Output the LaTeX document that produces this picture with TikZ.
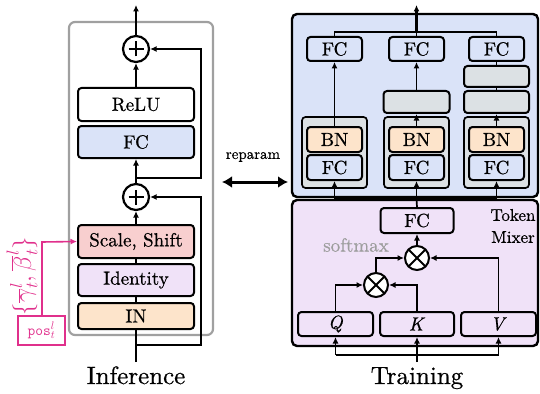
\documentclass[tikz,border=0pt]{standalone}
\usepackage{fontspec}
\setmainfont{lmroman10-regular}[Extension=.otf, FakeBold=0.6, ItalicFont=lmroman10-italic, ItalicFeatures={FakeBold=0.6}]
\usetikzlibrary{arrows.meta}
\definecolor{cblue}{RGB}{218,227,248}
\definecolor{cpink}{RGB}{248,207,207}
\definecolor{clav}{RGB}{240,226,248}
\definecolor{cpeach}{RGB}{253,228,203}
\definecolor{cgray}{RGB}{220,225,228}
\definecolor{cmag}{RGB}{224,48,140}
\definecolor{cpanel}{RGB}{160,160,160}
\begin{document}
\begin{tikzpicture}[x=1pt,y=-1pt,
  box/.style={draw, line width=2pt, rounded corners=3.5pt, inner sep=0pt, font=\fontsize{19}{22}\selectfont},
  conn/.style={line width=1.7pt},
  arr/.style={line width=1.7pt, -{Latex[length=6.5pt,width=6pt]}},
  opplus/.style={draw, circle, line width=2.2pt, minimum size=26pt, inner sep=0pt, fill=white,
    path picture={\draw[line width=2.2pt] ([yshift=-7.5pt]path picture bounding box.center) -- ([yshift=7.5pt]path picture bounding box.center)
      ([xshift=-7.5pt]path picture bounding box.center) -- ([xshift=7.5pt]path picture bounding box.center);}},
  optimes/.style={draw, circle, line width=2pt, minimum size=24pt, inner sep=0pt, fill=white,
    path picture={\draw[line width=2pt] (path picture bounding box.north west) -- (path picture bounding box.south east)
      (path picture bounding box.north east) -- (path picture bounding box.south west);}},
  lbl/.style={inner sep=0pt, font=\fontsize{25}{28}\selectfont}
]
\useasboundingbox (0,0) rectangle (540,393);

% ---------------- Left: Inference ----------------
\node[draw=cpanel, line width=2.2pt, rounded corners=6pt, minimum width=144pt, minimum height=313pt, inner sep=0pt] (lpanel) at (141,178.5) {};

\node[opplus] (p1) at (136,49) {};
\node[opplus] (p2) at (136,197) {};
\node[box, fill=white, minimum width=116pt, minimum height=33pt] (relu) at (136,104.5) {ReLU};
\node[box, fill=cblue, minimum width=116pt, minimum height=32pt] (lfc) at (136,142) {FC};
\node[box, fill=cpink, minimum width=116pt, minimum height=33pt] (ss) at (136,241.5) {Scale, Shift};
\node[box, fill=clav, minimum width=116pt, minimum height=32pt] (id) at (136,280) {Identity};
\node[box, fill=cpeach, minimum width=116pt, minimum height=26pt] (in) at (136,316) {IN};

\coordinate (lout) at (136,5);
\coordinate (lin) at (136,362);
\coordinate (b1) at (136,178);
\coordinate (b1r) at (201,178);
\coordinate (b1t) at (201,49);
\coordinate (b2) at (136,345);
\coordinate (b2r) at (201,345);
\coordinate (b2t) at (201,197);

\draw[conn] (lin) -- (in.south);
\draw[conn] (in.north) -- (id.south);
\draw[conn] (id.north) -- (ss.south);
\draw[arr] (ss.north) -- (p2.south);
\draw[arr] (p2.north) -- (lfc.south);
\draw[arr] (relu.north) -- (p1.south);
\draw[arr] (p1.north) -- (lout);
\draw[arr] (b1) -- (b1r) -- (b1t) -- (p1.east);
\draw[arr] (b2) -- (b2r) -- (b2t) -- (p2.east);

\node[lbl, anchor=base] (inflbl) at (136,384) {Inference};

% pos input
\node[draw=cmag, line width=1.6pt, minimum width=47pt, minimum height=29pt, inner sep=0pt, text=cmag, font=\fontsize{15}{17}\selectfont] (pos) at (41.5,330.5) {\texttt{pos}$^l_t$};
\coordinate (pc) at (42,242);
\draw[line width=1.6pt, cmag, -{Latex[length=6.5pt,width=6pt]}] (pos.north -| pc) -- (pc) -- (ss.west);
\node[rotate=90, text=cmag, inner sep=0pt, font=\fontsize{24}{26}\selectfont] (gb) at (22,276) {$\{\overline{\gamma}^l_t,\overline{\beta}^l_t\}$};

% reparam
\coordinate (ra) at (222,182);
\coordinate (rb) at (288,182);
\draw[line width=3pt, {Latex[length=10pt,width=12pt]}-{Latex[length=10pt,width=12pt]}] (ra) -- (rb);
\node[inner sep=0pt, font=\fontsize{15}{18}\selectfont] (rep) at (253,157) {reparam};

% ---------------- Right: Training ----------------
\node[draw, fill=cblue, line width=2.4pt, rounded corners=5pt, minimum width=246pt, minimum height=183pt, inner sep=0pt] (bpanel) at (415,105.5) {};
\node[draw, fill=clav, line width=2.4pt, rounded corners=5pt, minimum width=246pt, minimum height=146pt, inner sep=0pt] (ppanel) at (415,273) {};

% groups
\foreach \n/\x in {1/334.5, 2/416.5, 3/496.5} {
  \node[box, line width=1.7pt, fill=cgray, minimum width=65pt, minimum height=71pt] (grp\n) at (\x,152.5) {};
  \node[box, fill=cpeach, minimum width=55pt, minimum height=25pt] (bn\n) at (\x,139.5) {BN};
  \node[box, fill=cblue, minimum width=55pt, minimum height=25pt] (gfc\n) at (\x,167.5) {FC};
  \node[box, fill=cblue, minimum width=55pt, minimum height=24pt] (tfc\n) at (\x,49) {FC};
}
\node[box, fill=cgray, minimum width=66pt, minimum height=22pt] (g2) at (416.5,102) {};
\node[box, fill=cgray, minimum width=65pt, minimum height=21pt] (g3a) at (496.5,76.5) {};
\node[box, fill=cgray, minimum width=65pt, minimum height=22pt] (g3b) at (496.5,102) {};

\draw[arr] (bn1.north) -- (tfc1.south);
\draw[arr] (bn2.north) -- (g2.south);
\draw[arr] (g2.north) -- (tfc2.south);
\draw[arr] (bn3.north) -- (g3b.south);
\draw[conn] (g3b.north) -- (g3a.south);
\draw[conn] (g3a.north) -- (tfc3.south);

\coordinate (tm1) at (334.5,32);
\coordinate (tm2) at (416.5,32);
\coordinate (tm3) at (496.5,32);
\coordinate (rout) at (416.5,5);
\draw[conn] (tfc1.north) -- (tm1) -- (tm3) -- (tfc3.north);
\draw[conn] (tfc2.north) -- (tm2);
\draw[line width=2.2pt, -{Latex[length=6.5pt,width=6pt]}] (tm2) -- (rout);

\coordinate (bm1) at (334.5,199);
\coordinate (bm2) at (416.5,199);
\coordinate (bm3) at (496.5,199);

% token mixer
\node[box, fill=clav, minimum width=73pt, minimum height=25pt] (mfc) at (417,220.5) {FC};
\draw[conn] (bm1) -- (bm3);
\draw[conn] (mfc.north) -- (bm2);
\draw[arr] (bm1) -- (gfc1.south);
\draw[arr] (bm2) -- (gfc2.south);
\draw[arr] (bm3) -- (gfc3.south);

\node[optimes] (m2) at (417,258) {};
\node[optimes] (m1) at (376,285) {};
\node[box, fill=clav, minimum width=75pt, minimum height=24pt] (q) at (335.5,324) {\textit{Q}};
\node[box, fill=clav, minimum width=74pt, minimum height=24pt] (k) at (417,324) {\textit{K}};
\node[box, fill=clav, minimum width=75pt, minimum height=24pt] (v) at (498.5,324) {\textit{V}};

\draw[arr] (q.north) |- (m1.west);
\draw[arr] (k.north) |- (m1.east);
\draw[arr] (m1.north) |- (m2.west);
\draw[arr] (v.north) |- (m2.east);
\draw[arr] (m2.north) -- (mfc.south);

\node[inner sep=0pt, text=black!38, font=\fontsize{19}{21}\selectfont] (smx) at (356,245) {softmax};
\node[inner sep=0pt, align=center, font=\fontsize{17}{22}\selectfont] (tmx) at (513,226) {Token\\Mixer};

\coordinate (tin) at (417,362);
\coordinate (tq) at (335.5,355);
\coordinate (tv) at (498.5,355);
\draw[arr] (tin) -- (k.south);
\draw[conn] (tq) -- (tv);
\draw[arr] (tq) -- (q.south);
\draw[arr] (tv) -- (v.south);

\node[lbl, anchor=base] (trlbl) at (417,384) {Training};
\end{tikzpicture}
\end{document}
